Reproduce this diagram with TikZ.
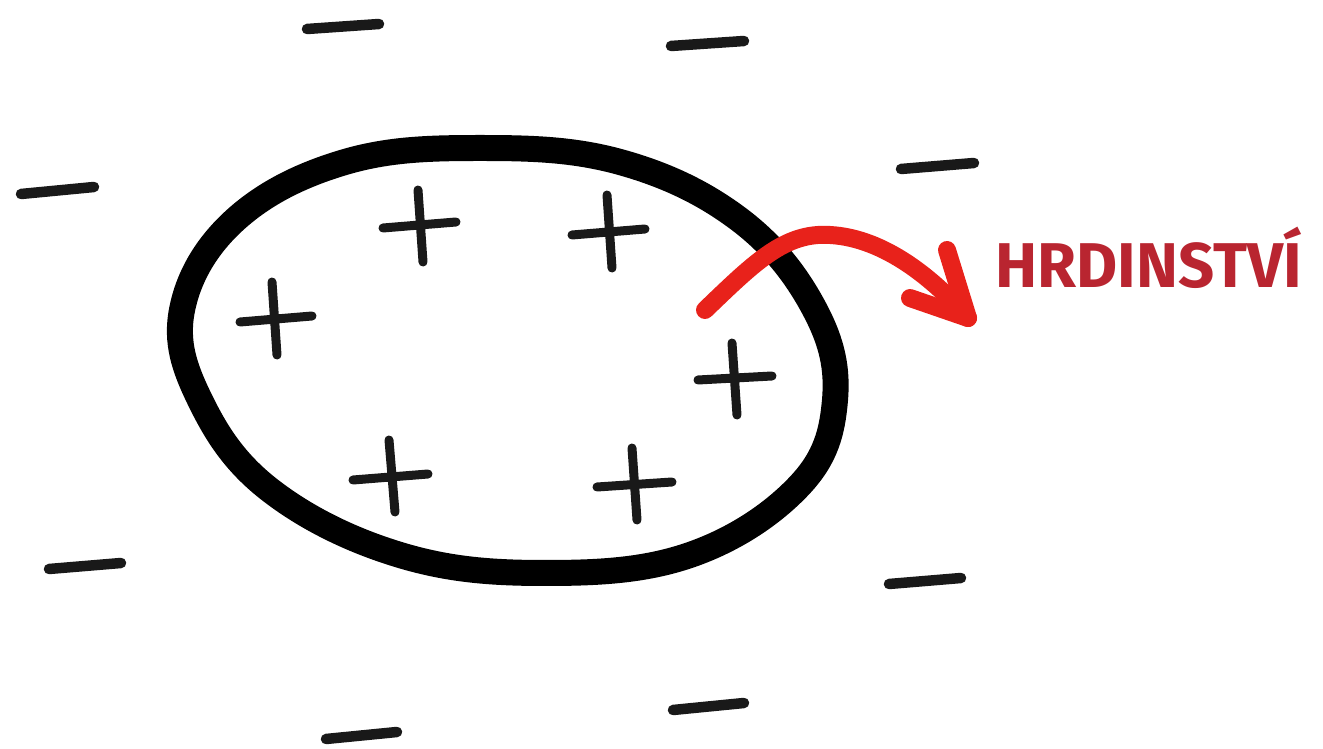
\documentclass[tikz,border=0pt]{standalone}
\usepackage{fontspec}
\newfontfamily\handfont{Fira Sans}
\definecolor{arrowred}{HTML}{E8221B}
\definecolor{textred}{HTML}{B92530}
\tikzset{
  blobline/.style={line width=0.52cm, black},
  signline/.style={line width=0.21cm, line cap=round, black!90},
  plusline/.style={line width=0.18cm, line cap=round, black!90},
  redline/.style={line width=0.36cm, line cap=round, line join=round, arrowred},
  labeltext/.style={font=\handfont\bfseries\fontsize{36}{40}\selectfont, text=textred, inner sep=0pt, anchor=base west}
}
\begin{document}
\begin{tikzpicture}[x=0.02cm, y=-0.02cm]
\useasboundingbox (0,0) rectangle (1323,749);
% blob
\draw[blobline] plot[smooth cycle, tension=0.65] coordinates {
  (480,148) (620,162) (740,220) (815,310) (835,400) (800,485) (690,555)
  (545,573) (400,555) (270,490) (200,400) (182,310) (235,220) (345,162)};
% plus signs
\draw[plusline] (383,228)--(456,222) (418,190)--(423,262);
\draw[plusline] (572,235)--(645,229) (607,195)--(612,268);
\draw[plusline] (240,322)--(312,316) (272,282)--(277,355);
\draw[plusline] (698,380)--(772,376) (732,343)--(737,415);
\draw[plusline] (353,480)--(428,474) (389,440)--(395,512);
\draw[plusline] (597,487)--(672,482) (632,448)--(637,520);
% minus signs
\draw[signline] (307,29)--(379,24);
\draw[signline] (671,46)--(744,41);
\draw[signline] (21,194)--(94,187);
\draw[signline] (901,169)--(974,163);
\draw[signline] (49,569)--(121,563);
\draw[signline] (889,584)--(961,578);
\draw[signline] (326,739)--(397,732);
\draw[signline] (673,710)--(744,703);
% label and arrow
\node[labeltext] (label) at (995,288) {HRDINSTVÍ};
\coordinate (start) at (705,310);
\coordinate (tip) at (968,318);
\coordinate (armA) at (910,298);
\coordinate (armB) at (947,250);
\draw[redline] (start) .. controls (755,262) and (785,232) .. (830,235)
  .. controls (885,238) and (935,280) .. (tip);
\draw[redline] (armA) -- (tip) -- (armB);
\end{tikzpicture}
\end{document}
